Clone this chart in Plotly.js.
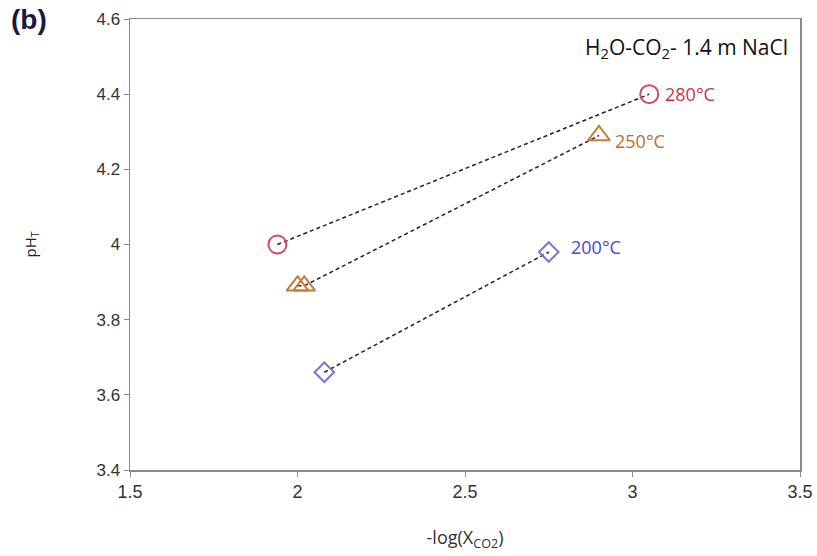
<!DOCTYPE html>
<html><head><meta charset="utf-8">
<script src="https://cdn.plot.ly/plotly-3.0.1.min.js"></script>
<style>html,body{margin:0;padding:0;background:#fff}#c{width:817px;height:556px}</style>
</head><body><div id="c"></div>
<script>
// Data
const x280 = [1.94, 3.05];
const y280 = [4.00, 4.40];
const x250 = [2.00, 2.02, 2.90];
const y250 = [3.89, 3.89, 4.29];
const x200 = [2.08, 2.75];
const y200 = [3.66, 3.98];
const seriesLabels = ['280°C', '250°C', '200°C'];
const xTicks = [1.5, 2, 2.5, 3, 3.5];
const xTickText = ['1.5', '2', '2.5', '3', '3.5'];
const yTicks = [3.4, 3.6, 3.8, 4.0, 4.2, 4.4, 4.6];
const yTickText = ['3.4', '3.6', '3.8', '4', '4.2', '4.4', '4.6'];

const lineStyle = {color: '#222', width: 1.5, dash: '4px,3px'};
function tr(x, y, sym, col, size) {
  return {x: x, y: y, type: 'scatter', mode: 'lines+markers', line: lineStyle,
    marker: {symbol: sym, size: size, color: col, line: {color: col, width: 2}},
    showlegend: false, hoverinfo: 'skip'};
}
const data = [
  tr(x280, y280, 'circle-open', '#d24a63', 18),
  tr(x250, y250, 'triangle-up-open', '#c97a3a', 19),
  tr(x200, y200, 'diamond-open', '#7a74d8', 15)
];
const font = 'Liberation Sans, Arial, sans-serif';
const lblFont = 'Open Sans, Liberation Sans, sans-serif';
const layout = {
  width: 817, height: 556,
  margin: {l: 130, r: 17, t: 19, b: 86},
  paper_bgcolor: '#fff', plot_bgcolor: '#fff',
  xaxis: {range: [1.5, 3.5], tickvals: xTicks, ticktext: xTickText, showgrid: false, zeroline: false,
    showline: true, mirror: true, linecolor: '#8a8a8a', linewidth: 1.5,
    ticks: 'outside', ticklen: 5, tickcolor: '#8a8a8a', tickfont: {family: font, size: 18, color: '#333'},
    title: {text: '-log(X<sub>CO2</sub>)', font: {family: lblFont, size: 18, color: '#333'}, standoff: 30}},
  yaxis: {range: [3.4, 4.6], tickvals: yTicks, ticktext: yTickText, showgrid: false, zeroline: false,
    showline: true, mirror: true, linecolor: '#8a8a8a', linewidth: 1.5,
    ticks: 'outside', ticklen: 5, tickcolor: '#8a8a8a', tickfont: {family: font, size: 17, color: '#333'},
    title: {text: 'pH<sub>T</sub>', font: {family: lblFont, size: 15, color: '#222'}, standoff: 56}},
  annotations: [
    {x: x280[1], y: y280[1], text: seriesLabels[0], showarrow: false, xanchor: 'left', xshift: 14,
      font: {family: lblFont, size: 18, color: '#c8344c'}},
    {x: x250[2], y: y250[2], text: seriesLabels[1], showarrow: false, xanchor: 'left', xshift: 14, yshift: -5,
      font: {family: lblFont, size: 18, color: '#c06a2a'}},
    {x: x200[1], y: y200[1], text: seriesLabels[2], showarrow: false, xanchor: 'left', xshift: 20, yshift: 5,
      font: {family: lblFont, size: 18, color: '#4a48d0'}},
    {xref: 'paper', yref: 'paper', x: 0.985, y: 0.935, xanchor: 'right', yanchor: 'middle', showarrow: false,
      text: 'H<sub>2</sub>O-CO<sub>2</sub>- 1.4 m NaCl', font: {family: lblFont, size: 21, color: '#111'}},
    {xref: 'paper', yref: 'paper', x: -0.18, y: 1.0, xanchor: 'left', yanchor: 'middle', showarrow: false,
      text: '<b>(b)</b>', font: {family: font, size: 28, color: '#1a1a40'}}
  ]
};
Plotly.newPlot('c', data, layout, {displayModeBar: false, staticPlot: true});
</script></body></html>
